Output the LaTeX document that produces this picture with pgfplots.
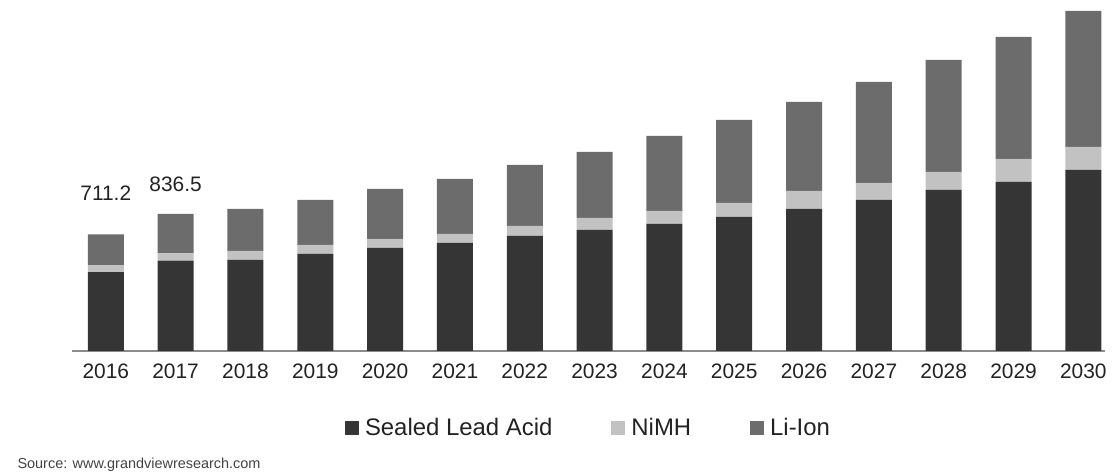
\documentclass[border=0pt]{standalone}
\usepackage{pgfplots}
\pgfplotsset{compat=1.18}
\usepackage{fontspec}
\setmainfont{Liberation Sans}

\definecolor{sla}{HTML}{353535}
\definecolor{nimh}{HTML}{C2C2C2}
\definecolor{liion}{HTML}{6C6C6C}
\definecolor{axisgray}{HTML}{8C8C8C}
\definecolor{txt}{HTML}{222222}

% Market volume by battery chemistry, 2016-2030
\pgfplotstableread{
x  sla     nimh   liion
0  481.8   40.1   189.3
1  551.3   44.4   240.8
2  555.1   54.9   256.2
3  591.7   54.9   274.5
4  628.3   54.9   305.0
5  658.8   54.9   335.5
6  701.5   61.0   372.1
7  738.1   73.2   402.6
8  774.7   79.3   457.5
9  817.4   85.4   506.3
10 866.2  109.8   542.9
11 921.1  103.7   616.1
12 982.1  109.8   683.2
13 1030.9 140.3   744.2
14 1104.1 140.3   829.6
}\datatable

\pgfplotsset{
  sq legend/.style={legend image code/.code={\fill[##1,draw=none] (0bp,-7bp) rectangle (14bp,7bp);}},
}

\begin{document}
\begin{tikzpicture}
\useasboundingbox (0,0) rectangle (1114bp,476bp);
\begin{axis}[
  at={(72bp,125bp)}, anchor=south west,
  scale only axis, width=1033bp, height=351bp,
  xmin=-0.484, xmax=14.31, ymin=0, ymax=2141.1,
  ybar stacked, bar width=36bp,
  axis x line*=bottom, axis y line=none,
  x axis line style={draw=axisgray, line width=1.4bp},
  xtick=data,
  xticklabels={2016,2017,2018,2019,2020,2021,2022,2023,2024,2025,2026,2027,2028,2029,2030},
  major tick length=0pt,
  ytick=\empty,
  xticklabel style={font=\fontsize{21}{24}\selectfont, text=txt, anchor=base, yshift=-28bp},
  /pgf/number format/assume math mode=true,
  clip=false,
  legend columns=3,
  legend style={draw=none, fill=none, at={(0.5,-0.219)}, anchor=center,
    font=\fontsize{24}{28}\selectfont, text=txt,
    /tikz/every odd column/.append style={column sep=4bp},
    /tikz/every even column/.append style={column sep=57bp}},
]
\addplot[fill=sla, draw=none, sq legend] table[x=x, y=sla] {\datatable};
\addplot[fill=nimh, draw=none, sq legend] table[x=x, y=nimh] {\datatable};
\addplot[fill=liion, draw=none, sq legend] table[x=x, y=liion] {\datatable};
\legend{Sealed Lead Acid, NiMH, Li-Ion}
\node[font=\fontsize{21}{24}\selectfont, text=txt] at (axis cs:0,964) {711.2};
\node[font=\fontsize{21}{24}\selectfont, text=txt] at (axis cs:1,1019) {836.5};
\end{axis}
\node[anchor=west, font=\fontsize{14.5}{17}\selectfont, text=txt!85] at (14bp,11bp) {Source: www.grandviewresearch.com};
\end{tikzpicture}
\end{document}
